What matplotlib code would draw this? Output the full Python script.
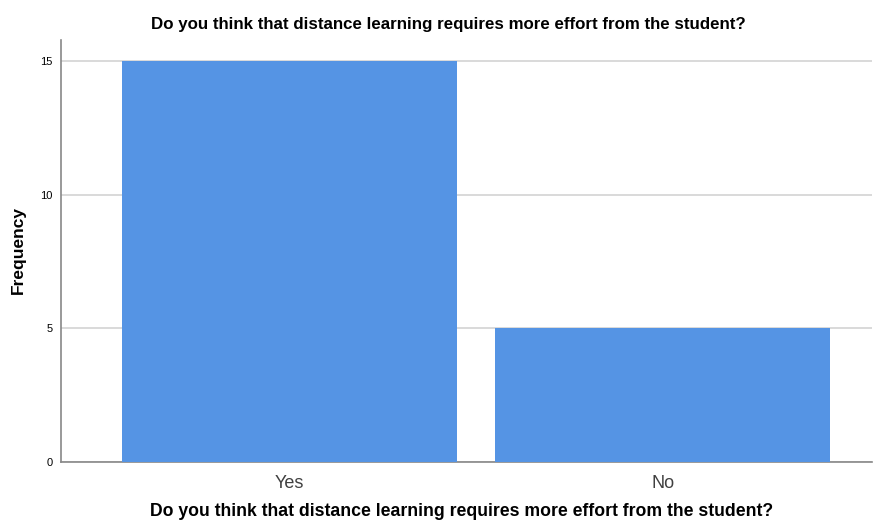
import matplotlib
matplotlib.use("Agg")
import matplotlib.pyplot as plt

categories = ["Yes", "No"]
frequencies = [15, 5]
yticks = [0, 5, 10, 15]
title = "Do you think that distance learning requires more effort from the student?"

plt.rcParams['font.family'] = ['Liberation Sans', 'DejaVu Sans']

fig = plt.figure(figsize=(8.77, 5.2), dpi=100)
ax = fig.add_axes([61/877, 1-462/520, (872-61)/877, (462-40)/520])

x = list(range(len(categories)))
ax.bar(x, frequencies, width=0.897, color="#5594E4", zorder=3)
ax.set_xlim(-0.612, 1.56)
ax.set_ylim(0, 15.8)
ax.set_yticks(yticks)
ax.set_yticklabels([str(t) for t in yticks], fontsize=8)
ax.set_xticks(x)
ax.set_xticklabels(categories, fontsize=13, color="#404040")
ax.yaxis.grid(True, color="#D3D3D3", linewidth=1.2, zorder=0)
ax.tick_params(axis='both', length=0)
ax.tick_params(axis='y', pad=6)
ax.tick_params(axis='x', pad=9)
for s in ["top", "right"]:
    ax.spines[s].set_visible(False)
for s in ["left", "bottom"]:
    ax.spines[s].set_color("#888888")
    ax.spines[s].set_linewidth(1.2)

fig.text(18/877, 1-250/520, "Frequency", rotation=90, ha="center", va="center",
         fontsize=12.5, fontweight="bold")
fig.text(448/877, 1-25/520, title, ha="center", va="center", fontsize=12.2, fontweight="bold")
fig.text(462/877, 1-511/520, title, ha="center", va="center", fontsize=12.7, fontweight="bold")

fig.savefig("out.png", dpi=100)
